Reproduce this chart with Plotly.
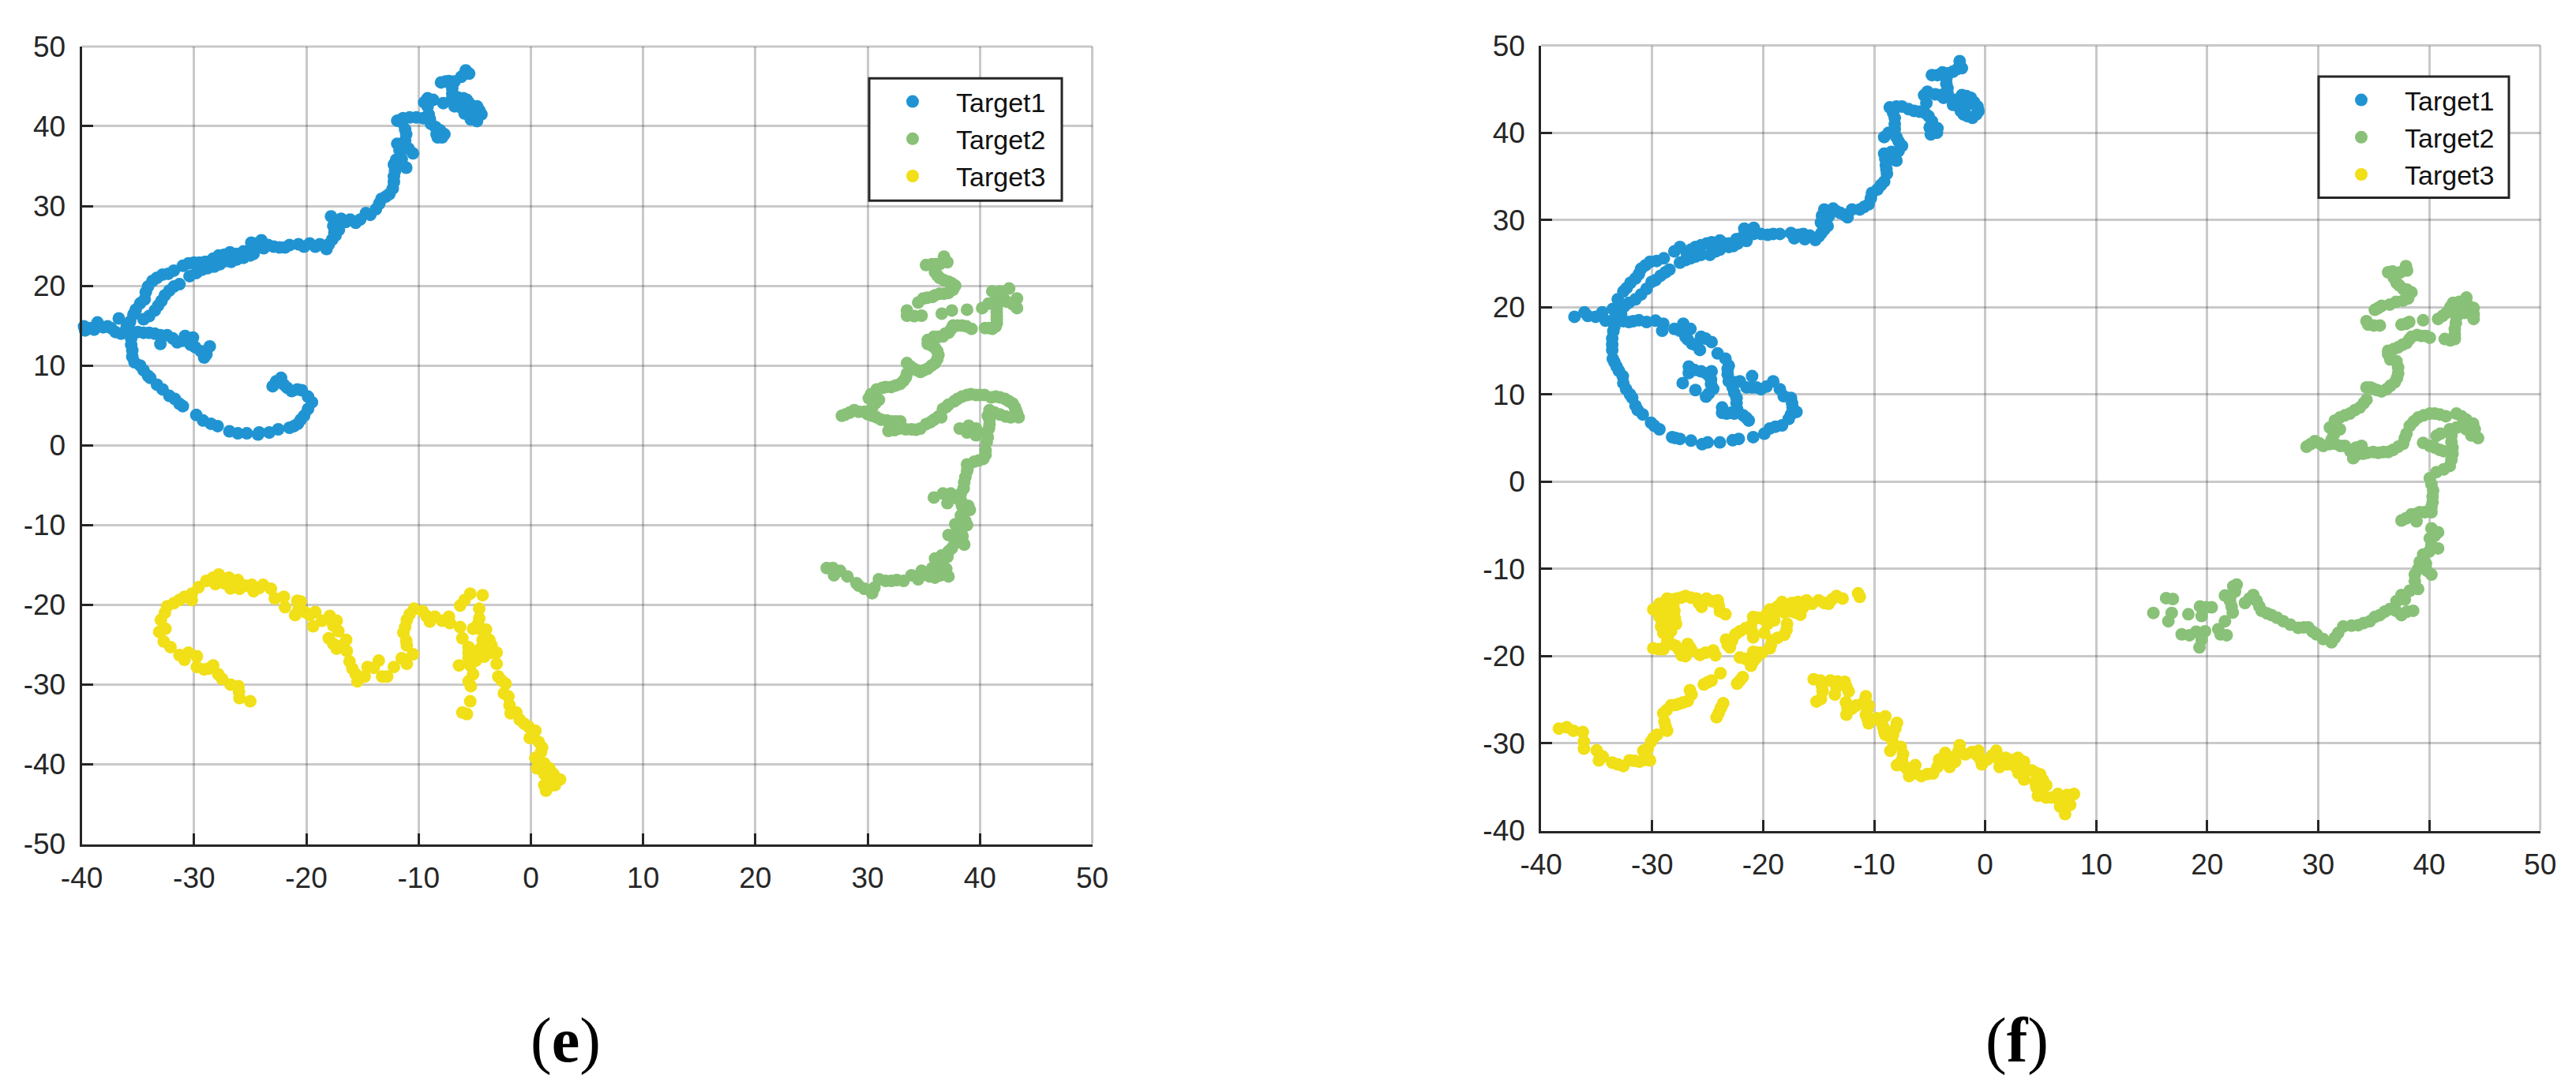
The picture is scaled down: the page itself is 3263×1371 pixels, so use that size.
import plotly.graph_objects as go

WIDTH, HEIGHT = 3263, 1371
BLUE, GREEN, YELLOW = "#2094D2", "#88C177", "#F1DF17"
SERIES_NAMES = ["Target1", "Target2", "Target3"]
X_TICKS = [-40, -30, -20, -10, 0, 10, 20, 30, 40, 50]
X_LABELS = ["-40", "-30", "-20", "-10", "0", "10", "20", "30", "40", "50"]
Y_TICKS_E = [-50, -40, -30, -20, -10, 0, 10, 20, 30, 40, 50]
Y_LABELS_E = ["-50", "-40", "-30", "-20", "-10", "0", "10", "20", "30", "40", "50"]
Y_TICKS_F = [-40, -30, -20, -10, 0, 10, 20, 30, 40, 50]
Y_LABELS_F = ["-40", "-30", "-20", "-10", "0", "10", "20", "30", "40", "50"]

e_target1 = [(-28.6,12.4),(-28.9,11.4),(-29.1,11.0),(-29.4,11.8),(-29.9,12.3),(-30.3,12.6),(-30.1,13.5),(-30.8,13.7),(-31.0,13.1),(-31.5,12.9),(-31.9,13.4),(-32.4,13.8),(-33.0,12.7),(-33.0,13.8),(-33.5,14.0),(-34.0,14.1),(-34.5,14.1),(-35.0,14.2),(-35.5,14.2),(-36.0,14.1),(-36.5,14.0),(-37.0,14.2),(-37.4,14.7),(-37.7,14.9),(-38.1,14.8),(-38.6,15.4),(-38.9,14.5),(-39.3,14.7),(-39.7,14.4),(-39.8,14.9),(-36.7,15.9),
(-34.5,15.8),(-34.0,16.2),(-33.5,16.9),(-33.2,17.5),(-32.9,18.1),(-32.6,18.8),(-32.2,19.4),(-31.8,19.9),(-31.3,20.2),
(-36.0,14.8),(-35.7,15.5),(-35.4,16.4),(-35.2,17.0),(-34.8,17.8),(-34.4,18.3),(-34.3,19.2),(-34.1,19.9),(-33.7,20.6),(-33.3,21.0),(-32.8,21.4),(-32.3,21.5),(-31.8,21.9),(-31.0,22.5),(-30.5,22.8),(-30.0,22.9),(-29.5,22.9),(-29.0,23.0),(-30.4,21.2),(-29.8,21.6),(-29.3,22.0),(-28.8,22.2),(-28.2,22.4),(-27.7,22.7),(-27.2,23.1),(-26.7,23.0),(-26.2,23.3),(-25.6,23.5),(-25.0,23.8),(-24.7,24.0),(-28.3,23.4),(-27.8,23.8),(-27.3,23.9),(-26.8,24.2),(-26.2,24.0),(-25.6,24.3),(-25.0,24.5),(-24.9,25.4),(-24.4,25.3),(-24.0,25.7),(-23.8,24.7),(-23.4,25.1),(-22.9,24.9),(-22.4,24.8),(-21.9,24.8),(-21.5,25.1),(-20.7,25.2),(-20.2,24.9),(-19.7,25.3),(-19.2,24.9),(-18.8,25.2),(-18.2,24.6),(-18.0,25.2),(-17.7,25.8),(-17.4,26.3),(-17.1,27.0),(-17.5,26.7),(-17.6,27.5),(-17.8,28.7),(-17.5,28.1),(-16.9,28.4),(-16.5,28.0),(-16.1,28.3),(-15.6,27.9),(-15.2,28.3),(-14.7,29.1),(-14.3,28.9),(-13.8,29.6),(-13.5,30.3),(-13.3,30.9),(-12.9,31.2),(-12.6,31.5),(-12.3,32.2),(-12.2,33.0),(-12.2,33.7),(-12.1,34.4),(-12.2,35.2),(-12.0,35.8),(-11.5,35.9),(-11.1,34.8),(-11.5,35.2),(-10.5,36.6),(-10.9,37.2),(-11.9,37.8),(-11.7,37.0),(-11.3,37.3),(-11.2,38.2),(-11.1,39.0),(-11.2,39.6),(-11.5,40.5),(-11.9,40.7),(-11.4,41.0),(-10.8,41.1),(-10.2,41.1),(-9.6,41.0),(-9.0,40.9),(-8.9,40.3),(-8.5,39.9),(-8.1,39.5),(-7.7,39.0),(-8.3,38.6),(-7.9,38.6),(-8.4,39.0),(-9.1,41.5),(-9.2,42.5),(-9.5,43.0),(-9.2,43.5),(-8.7,43.3),(-7.8,42.9),
(-8.0,45.5),(-7.3,45.65),(-7.0,44.75),(-7.0,44.1),(-7.0,43.5),(-6.8,42.5),(-5.7,43.3),(-4.8,42.5),(-4.4,41.5),(-5.35,40.85),(-4.8,40.65),(-5.8,47),(-5.5,46.6),(-6.2,46.2),(-7.6,45.6),(-6.8,45.6),
(-6.5,43.6),(-6.0,43.5),(-5.5,42.9),(-5.9,42.4),(-5.2,42.3),(-5.5,41.8),(-5.0,41.8),(-4.6,42.0),(-5.0,41.2),(-6.3,42.4),(-6.6,43.0),(-5.9,41.6),
(-35.6,13.4),(-35.6,12.6),(-35.5,11.9),(-35.5,11.1),(-35.3,10.4),(-34.8,10.0),(-34.5,9.4),(-34.1,8.7),(-33.9,8.45),(-33.3,7.6),(-32.8,7.0),(-32.2,6.2),(-31.7,5.8),(-31.3,5.2),(-31,4.9),(-29.8,3.8),(-29.2,3.1),(-28.5,2.7),(-27.9,2.4),(-26.85,1.75),(-26.1,1.5),(-25.3,1.5),(-24.3,1.35),(-24.2,1.6),(-23.3,1.6),(-22.5,2.0),(-21.5,2.2),(-20.75,2.7),(-21.1,2.4),(-20.2,3.7),(-20.5,3.2),(-19.85,4.55),(-19.5,5.4),(-19.85,6.1),(-20.4,6.9),(-21.3,6.8),(-20.8,7.0),(-21.7,7.2),(-22,7.6),(-22.25,8.45),(-22.7,8),(-23,7.4)]

e_target2 = [(36.8,23.65),(37.1,22.95),(36.4,22.7),(35.75,22.7),(35.2,22.6),(36.1,22.7),(36,21.7),(36.2,21.3),(36.4,21.0),(36.8,20.7),(37.2,20.5),(37.5,20.3),(37.8,20),(37.6,19.5),(37.2,19.1),(36.8,19),(36.4,19),(36,18.8),(35.75,18.6),(35.3,18.5),(34.95,18.4),(34.5,17.9),
(33.5,16.9),(33.5,16.25),(34.15,16.2),(34.8,16.25),(36.6,16.5),(37.5,16.9),(38.85,17),(40.2,17.2),(40.75,17.75),(41.4,18.1),(42.1,18.4),(43.3,18.4),(43.3,17.2),(42.6,19.65),(41.8,19.3),(41.1,19.3),(42.9,17.7),(42.4,18.0),(41.5,17.2),(41.4,17.6),(41.5,16.7),(41.5,16.2),(41.5,15.8),(41.5,15.3),(41.1,14.6),(41.4,14.9),(40.8,14.7),(40.45,14.7),
(39.25,14.6),(38.8,14.9),(38.4,15),(38,15),(37.6,15),(37.4,14.5),(37.2,14.1),(36.9,14),(36.7,13.65),(36.3,13.6),(35.9,13.6),(35.35,13.2),(35.35,12.7),(35.7,12.5),(36,12.2),(36.2,11.8),(36.3,11.3),(36.2,10.8),(36,10.3),(35.7,10),(35.35,9.6),(35,9.4),(34.7,9.2),(34.4,9.4),(34.1,9.6),(33.8,9.9),(33.5,10.3),(33.5,9.0),(33.4,8.5),(33.2,8.1),(32.9,7.7),(32.5,7.5),(32.1,7.3),(31.6,7.3),(31.3,7.2),(30.8,7),(30.3,6.4),(30.1,5.9),(31,5.7),(30.7,5.3),(30.4,4.7),(30,3.9),(29.7,4.2),(29.2,4.2),(28.8,4.4),(28.4,4.1),(28,3.85),(27.7,3.7),
(30.4,3.7),(30.8,3.5),(31.2,3.2),(31.7,3.1),(32.1,3),(32.5,3),(32.9,3),(31.85,1.8),(32.4,1.9),(32.8,2.1),(32.3,2.5),(32.7,2.6),(33.4,2.0),(33.9,2),(34.3,1.95),(34.7,2.1),(35.2,2.65),(35.6,2.9),(35.9,3.2),(36.3,3.6),(36.55,3.5),(36.7,4.55),(37,4.8),(37.2,5.1),(37.7,5.5),(38,5.8),(38.85,6.3),(38.4,6.1),(39.2,6.4),(39.65,6.3),(40,6.3),(40.4,6.3),(41,6.0),(41.4,6.1),(41.8,6),(42.25,5.8),(42.6,5.5),(42.9,5.25),(43.1,4.8),(43.2,4.4),(43.3,4.0),(43.45,3.5),(42.75,3.5),(42.3,3.6),(41.8,3.85),(41.3,4.1),(40.85,4.4),(40.7,3.7),(40.85,3.2),(40.85,2.65),(40.8,2.1),(40.6,1.6),(39.65,2.1),(39,2.45),(38.2,2.1),(38.85,1.6),(39.65,1.25),(40.7,1),(40.6,0.4),(40.5,-0.65),(40.5,-1.2),(40.3,-1.7),(39.9,-1.9),(39.5,-2.05),(38.85,-2.4),(38.9,-2.9),(38.85,-3.25),(38.7,-4),(38.6,-4.65),(38.55,-5.4),(38.3,-6.05),(37.4,-6.05),(36.7,-6.05),(35.9,-6.55),(37.1,-7.25),(38.1,-6.8),(38.3,-6.9),(38.95,-7.6),(38.6,-7.5),(38.4,-7.6),(38.7,-8.2),(39.1,-8.1),(38.3,-8.8),(38.7,-9.5),(37.8,-9.9),(38.85,-10),(38.4,-10.5),(38,-10.4),(38.2,-11.0),(37.2,-11.25),(37.5,-11.4),(37.9,-11.6),(38.45,-11.4),(38.6,-12.45),(37.75,-12.3),(37.5,-12.9),(37.2,-13.3),(37.1,-14),(36.7,-14.3),(36.6,-13.8),(36,-14.2),(36.4,-15.1),(36.2,-15.5),(37.0,-15.5),(37.2,-16.45),(36.5,-16.3),(36,-16.6),(35.5,-16.45),(35.75,-15.4),(35.1,-16.2),(34.8,-15.75),(34.5,-16.8),(33.9,-16.3),(33.2,-17),(32.6,-16.9),(32.1,-17),(31.6,-17),(31,-16.8),(30.6,-17.85),(30.4,-18.55),(29.7,-18),(29.2,-17.6),(29,-17.3),(28.2,-16.45),(27,-16.3),(26.35,-15.4),(26.9,-15.4),(27.55,-15.75)]

e_target3 = [(-25.0,-32.1),(-25.95,-31.7),(-26.05,-30.2),(-26.0,-30.9),(-26.75,-30),(-27.5,-29.3),(-27.85,-28.7),(-28.3,-27.6),(-28.7,-28.0),(-29.1,-28.1),(-29.75,-27.8),(-29.75,-26.45),(-30.5,-26),(-30.85,-26.9),(-31.3,-26.3),(-32.1,-25.3),(-32.7,-24.6),(-33.1,-23.4),(-32.55,-23),(-32.95,-21.9),(-32.6,-21.0),(-32.4,-20.2),(-31.8,-19.8),(-30.85,-19),(-31.3,-19.4),(-30.2,-18.6),(-30.2,-19.4),(-29.6,-17.8),(-28.9,-17),(-28.3,-16.6),(-27.8,-16.2),(-28.1,-17.4),(-26.9,-16.6),(-27.3,-17.3),(-26.75,-17.95),(-26.1,-16.9),(-25.95,-18),(-25.4,-17.6),(-24.85,-17.5),(-23.85,-17.5),(-24.7,-18.3),(-24.2,-17.9),(-23.15,-18),(-22.8,-19.2),(-22,-19),(-21.9,-20.3),(-20.8,-19.5),(-21,-21.3),(-20.5,-19.6),(-20.15,-20.9),(-20.7,-20.6),(-19.2,-20.9),(-19.4,-22.7),(-19.7,-21.3),(-18.6,-22),(-17.9,-21.4),(-17.3,-22),(-17.6,-22.6),(-17.15,-23.3),(-18,-24.2),(-17.6,-24.9),(-17.3,-25.5),(-16.45,-24.4),(-16.9,-25.2),(-16.4,-25.8),(-16.15,-27.1),(-15.6,-28.7),(-15.9,-28.0),(-15.45,-29.6),(-14.8,-29),(-14.55,-27.8),(-13.55,-27),(-14.0,-27.9),(-13.25,-29),(-12.8,-29),(-12.2,-27.8),(-11.5,-26.7),(-11.05,-27.4),(-10.5,-26.2),(-11.05,-25.1),(-11.35,-23.5),(-11.1,-24.5),(-11.05,-21.9),(-11.2,-22.8),(-10.4,-20.5),(-10.8,-21.2),(-9.65,-20.8),(-9,-22.1),(-9.3,-21.4),(-8.55,-21.5),(-7.9,-22),(-7.3,-21.5),(-7.2,-22.3),
(-6.3,-22.8),(-6.1,-24.2),(-5.55,-25.3),(-5.55,-26.7),(-5.55,-26.0),(-5.0,-26.0),(-4.9,-27.0),(-6.4,-27.6),(-5.4,-27.6),(-5.15,-28.7),(-5.55,-29.6),(-5.35,-30.2),(-5.4,-32.1),(-5.7,-33.7),(-6.1,-33.5),(-6.3,-20.1),(-5.9,-19.4),(-5.4,-18.6),(-4.3,-18.8),(-4.6,-20.5),(-4.6,-21.7),(-4.7,-22.4),(-5.15,-23),(-4.6,-23),(-4,-23.1),(-4.3,-24.4),(-3.7,-24.4),(-4.15,-26.5),(-4.5,-25.5),(-3.5,-26),(-3.5,-25.1),(-3.05,-26),(-3.05,-27.4),(-2.9,-29),(-2.25,-29.9),(-2.4,-31.1),(-2.6,-29.5),(-2,-31.5),(-1.9,-32.6),(-1.8,-33.6),(-1.3,-33.5),(-1,-34.4),(-0.6,-34.9),(-0.2,-35.3),(0.4,-35.8),(-0.1,-36.7),(0.7,-37.2),(0.9,-38.5),(0.4,-39.2),(1.0,-37.9),(1.2,-39.9),(0.55,-40.5),(1.65,-40.5),(2,-41.2),(2.6,-41.9),(2.15,-42.6),(1.35,-43.3),(1.2,-42.6),(1.65,-41.9),(1.7,-42.7),(1.2,-41.2)]

f_target1 = [(-37,18.9),(-36.1,19.4),(-35.8,19),(-35.1,18.9),(-34.5,19.4),(-34.2,18.45),(-33.55,19.8),(-32.8,19.2),(-33.4,18.7),(-32.1,18.3),(-32.6,18.4),(-31.2,18.5),(-31.7,18.4),(-30.5,18.3),(-29.7,18.45),(-29,18.1),(-29.1,17.3),(-28,17.5),(-27.2,18.1),(-27.5,17.3),(-26.55,17.5),(-27,16.6),(-26.4,15.8),(-26.8,16.3),(-25.6,16.6),(-25.7,15.1),(-26.0,15.6),(-24.65,16),(-25.2,16.4),(-24.1,14.7),(-23.4,14.1),(-23.1,13.3),(-23.2,12.3),(-23.2,12.9),(-23.1,11.5),(-22.1,11.5),(-22.6,11.4),(-21,12.1),(-21.5,10.8),(-21.0,10.8),(-20.2,10.6),(-20.6,10.8),(-19.1,11.5),(-19.7,10.9),(-18.5,10.6),(-18.15,9.8),(-17.5,9.6),(-17.35,8.5),(-17.4,9.0),(-17,8),(-17.7,7.2),(-17.5,7.7),(-18.3,6.45),(-18.9,6.3),(-19.4,6.1),(-19.9,5.5),(-20.9,5.1),
(-22.2,4.9),(-22.75,4.75),(-23.9,4.5),(-25,4.5),(-25.5,4.3),(-26.5,4.7),(-27.5,4.9),(-28.2,5.1),(-27.9,5.0),
(-29.35,6),(-29.8,6.4),(-30.1,6.75),(-30.85,7.7),(-31.5,8.7),(-31.3,8.2),(-31.8,9.6),(-32.0,10.0),(-32.35,10.6),(-32.6,11.3),(-32.65,12.1),(-33.2,13.2),(-33.0,12.7),(-33.55,14.1),(-33.4,13.7),(-33.6,15.1),(-33.6,15.7),(-33.6,16.4),(-33.5,17.25),(-33.4,17.8),
(-22.75,10.8),(-22.4,9.6),(-22.6,10.2),(-22.35,8.3),(-22.4,9.0),(-22.6,7.8),(-21.8,7.6),(-21.3,7),(-21.5,7.3),(-23.7,7.9),(-23.7,8.5),(-23.3,7.8),(-22.9,7.9),
(-26.7,13.2),(-26.7,12.45),(-26.2,12.8),(-25.6,12.65),(-25.1,12.4),(-24.65,12.65),(-24.7,11.7),(-24.9,12.2),(-24.5,10.65),(-24.7,11.2),(-25.15,9.75),(-24.9,10.1),(-26.1,10.5),(-27.25,11.3),
(-32.9,19.8),(-32.5,20.1),(-32.1,20.5),(-31.5,20.9),(-31,21.45),(-30.5,22.1),(-30.05,22.9),(-29.25,23.6),(-29.7,23.1),(-28.45,24.3),(-28.8,24.0),
(-33.1,20.9),(-32.6,21.8),(-32.3,22.2),(-31.95,22.8),(-31.5,23.3),(-31.2,23.8),(-31,24.4),(-30.6,24.8),(-30.2,25.2),(-29.6,25.3),(-28.95,25.6),
(-27.5,25.1),(-27.0,25.4),(-26.55,25.6),(-26.1,25.8),(-25.6,26),(-24.8,26),(-24.3,26.4),(-23.9,26.6),(-23.1,26.9),(-22.3,27.3),(-22.7,27.0),(-28,26.4),(-27.5,26.9),(-26.9,26.3),(-26.5,26.6),(-26.1,26.9),(-25.6,27.1),(-25.1,27.3),(-24.65,27.45),(-23.9,27.65),(-23.5,27.3),(-23.1,27.3),(-22.4,27.8),(-21.9,28.0),(-21.5,27.6),(-21.7,29),(-21.2,28.5),(-20.85,29.1),(-20.85,28.4),(-20.2,28.4),(-19.6,28.3),(-19.1,28.4),(-18.5,28.4),(-17.5,28.5),(-17.2,27.9),(-16.8,28.3),(-16.4,28.4),(-16.25,27.8),(-15.8,28.2),(-15.3,27.7),(-15.0,28.1),(-14.75,28.5),(-14.5,28.9),(-14.2,29.3),(-14.8,29.7),(-14.7,30.5),(-14.5,31.2),(-13.7,31.3),(-14.1,30.4),(-13.05,30.8),(-13.4,31.0),(-12.4,30.3),(-12.7,30.6),(-12,31.2),(-11.3,31.2),(-10.9,31.5),(-10.5,31.8),(-10.3,32.5),(-10.2,33.1),(-9.7,33.5),(-9.4,34),(-9.1,34.4),(-8.85,35.3),(-8.95,36.3),(-8.9,35.8),(-9.1,37.6),(-9.0,37.0),(-8,36.8),(-8.45,37.8),(-8.4,37.1),(-7.5,38.5),(-7.8,37.9),(-8,39.5),(-7.8,39.0),(-9.1,39.5),(-8.7,40.0),(-8.15,40.4),(-8.15,41.0),(-8.15,41.7),(-8.3,42.3),(-8.6,42.9),(-8.0,43),(-7.5,43),(-6.9,42.7),(-6.4,42.5),(-5.9,42.4),(-5.45,42.3),(-5.1,41.9),(-4.8,41.3),(-5,40.6),(-4.3,40.5),(-4.9,39.8),(-4.35,40),
(-5.3,43.4),(-5.5,44.3),(-5.2,44.7),(-4.5,44.4),(-4.0,44.3),(-3.75,44),(-3.4,45.1),(-3.4,44.6),(-3.5,46.2),(-3.5,45.6),(-4.8,46.6),(-4.3,46.6),(-3.85,46.9),(-3.4,46.8),(-2.9,47),(-2.5,47.3),(-2.1,47.4),(-2.3,48.2),
(-2.9,43.2),(-2.9,43.8),(-2.1,44.3),(-1.7,44.2),(-1.3,44),(-1.0,43.5),(-0.7,43),(-0.6,42.5),(-0.8,42.1),(-1.15,41.7),(-1.6,41.9),(-1.95,42.1),(-2.4,43),(-2.2,42.5),(-1.6,43.2),(-2.1,43.6)]

f_target2 = [(37.9,24.7),(38.0,24.2),(36.3,24),(36.7,24.1),(37.05,23.9),(37.4,24.0),(37.05,22.8),(36.8,23.4),(37.65,22.1),(37.3,22.5),(38.4,21.7),(38.0,22.0),(38.1,21.0),(37.65,20.75),(37.0,20.6),(36.45,20.3),(35.7,20.15),(35.1,19.7),(35.4,19.9),
(34.35,18.4),(34.5,18),(35.0,17.9),(35.55,17.9),(37.5,18),(38.2,18.3),(37.9,18.1),(39.45,18.5),
(40.8,18.65),(41.55,19.35),(41.2,19.0),(42.15,20.5),(41.9,20.0),(42.7,20.6),(43.35,21.1),(43.5,20.2),(44,19.9),(44,19.2),(44,18.65),(43.2,19.35),(42.45,18.9),(42.8,19.3),(42.3,17.5),(42.4,18.2),(42.3,16.9),(42.3,16.35),(41.9,16.2),(41.4,16.35),
(40.05,16.5),(39.7,16.7),(39.3,16.7),(38.9,16.8),(38.4,16.6),(37.95,15.9),(38.2,16.3),(37.2,15.4),(37.6,15.7),(36.3,15),(36.8,15.2),(36.5,14),(36.3,14.6),(37.05,13.8),(37.2,13.1),(37.2,12.4),(37.1,11.9),(36.9,11.4),(36.5,11.0),(36.15,10.6),(35.7,10.35),(34.95,10.65),(35.3,10.5),(34.35,10.8),(34.7,10.8),(34.35,9.4),(34.1,9.0),(33.75,8.5),(33.3,8.2),(32.85,7.8),(32.4,7.6),(31.95,7.35),(31.5,7.0),(31.05,6.2),(31.95,6),(31.5,6.2),(31.2,4.8),(31.4,5.4),(29.7,4.65),(30.1,4.4),(28.95,4),(29.3,4.3),(30.45,4.1),(31.0,4.3),(31.5,4.35),(32.0,4.1),(32.4,4.1),(33.15,2.7),(33.5,3.1),(34.05,3.2),(33.9,4.1),(33.4,3.9),(32.9,3.5),(34.4,3.3),(34.95,3.4),(35.4,3.3),(35.85,3.4),(36.3,3.4),(36.75,3.65),(37.2,4.0),(37.65,4.35),(37.8,5.0),(37.95,5.5),(38.25,6.4),(38.6,6.9),(39,7.35),(39.5,7.6),(40.05,7.8),(40.5,7.8),(40.95,7.7),(41.5,7.5),(42.45,7.8),(42.9,7.5),(43.35,7.1),(43.95,6.65),(44.1,6.0),(44.4,5),(43.8,5.3),(43.35,6),(42.45,6.2),(41.85,6),(42.9,6.3),(42,4.55),(42.0,5.3),(42.1,3.2),(42.1,3.9),(41.85,1.8),(42.0,2.5),(41.3,1.4),(40.65,1.1),(40.05,0.4),(40.2,-0.3),(40.35,-1),(40.3,-1.7),(40.3,-2.35),(40.2,-3.5),(40.2,-2.9),(39.6,-3.5),(39.15,-3.5),(38.4,-3.75),(38.8,-3.7),(37.5,-4.45),(37.9,-4.2),(38.85,-4.55),
(40.65,5.25),(41.0,5.5),(39.45,4.45),(40.05,4.1),(40.5,3.9),(40.95,3.65),(41.3,3.5),(40.2,-5.35),(40.8,-5.8),(40.05,-6.5),(40.5,-6.2),(40.8,-7.65),(40.2,-7.3),(40.0,-8.0),(39.45,-8.35),(39.15,-9.2),(39.7,-9.4),(40.2,-10.65),(39.8,-10.2),(38.7,-10.65),(39.0,-10.0),(39,-12.3),(38.7,-11.4),(38.25,-12.5),(37.5,-13),(37.05,-13.7),(37.8,-13.5),(38.55,-14.8),(37.5,-15.3),(38.0,-14.9),(36.45,-14.6),(37,-14.8),(35.55,-15.3),(36.0,-14.9),(34.65,-16),(35.1,-15.5),(33.6,-16.45),(34.1,-16.2),(32.25,-16.6),(33,-16.5),(31.8,-17.35),(31.2,-18.4),(31.5,-17.9),(30.45,-18.05),(29.85,-17.5),(29.1,-16.7),(29.5,-17.2),(28.2,-16.75),(28.7,-16.7),(26.85,-16),(27.5,-16.4),(25.8,-15.3),(26.3,-15.6),(24.9,-14.8),(25.4,-15.1),(24.45,-13.65),(24.7,-14.3),(24.15,-13),(23.4,-13.9),(23.8,-13.4),(22.35,-12),(22.65,-11.8),(22.5,-12.6),(21.6,-13.05),(22.05,-13.65),(22.1,-13.1),(22.3,-15),(22.2,-14.3),
(21.6,-16),(21,-16.9),(21.75,-17.6),(21.2,-17.5),(19.8,-17.15),(19,-17.2),(19.3,-19),(19.5,-18.1),(17.7,-17.5),(18.4,-17.6),(19.5,-15.4),(20.4,-14.4),(19.35,-14.3),(19.9,-14.4),(18.3,-15.2),(16.8,-15.05),(16.5,-16),(15.15,-15.05),(16.3,-13.35),(16.9,-13.45)]

f_target3 = [(-38.4,-28.3),(-37.7,-28.15),(-37.1,-28.55),(-36.25,-28.7),(-36.15,-29.8),(-36.15,-30.6),(-35,-30.8),(-34.8,-31.95),(-34.45,-31.5),(-33.6,-32.2),(-32.6,-32.6),(-33.1,-32.4),(-32.05,-31.95),(-31.6,-32.0),(-31.15,-32.1),(-30.2,-31.95),(-30.7,-31.9),(-30.8,-30.85),(-30.4,-30.6),(-30.1,-29.8),(-29.9,-29.4),(-29.55,-29),(-28.65,-28.55),(-28.9,-27.5),(-28.8,-28.0),(-29,-26.55),(-28.7,-26.2),(-28.3,-25.65),(-27.55,-25.45),(-27.9,-25.6),(-26.8,-25.15),(-27.2,-25.3),(-26.45,-24.4),(-26.6,-23.9),
(-25.35,-23.25),(-24.65,-22.8),(-25.0,-23.0),(-23.85,-21.95),(-22.35,-23.15),(-22.1,-22.8),(-21.85,-22.4),(-24.2,-27),(-24.0,-26.5),(-23.6,-25.4),(-23.8,-25.9),
(-21.1,-21.1),(-20.9,-20.6),(-20.65,-20.25),(-22.1,-20.15),(-21.6,-20.3),(-21,-20.0),(-20.9,-19.5),(-20.1,-19.6),(-20.5,-19.6),(-19.4,-19.1),(-19.2,-18.2),(-19.3,-18.7),(-18.1,-17.55),(-18.7,-17.9),(-17.85,-16.3),(-17.9,-17.0),(-19.9,-17.35),(-20.9,-17.85),(-21,-17.2),(-20.9,-15.5),(-20.1,-15.7),(-20.5,-15.6),(-23,-19),(-22.8,-18.2),(-23.35,-18.1),(-23.2,-18.7),(-22.1,-17.15),(-22.5,-17.5),(-21.1,-16.5),(-21.6,-16.8),(-19.4,-14.65),(-19.7,-15.2),(-19,-15.9),(-19.6,-16.3),(-18.3,-13.8),(-18.7,-14.3),(-17.55,-14.85),(-18.1,-15),(-16.65,-15.25),(-17.1,-15),(-16.1,-13.6),(-16.85,-13.8),(-17.4,-13.9),(-17.9,-14.2),(-18.65,-14.8),(-16.4,-14.4),(-17,-14.4),(-15,-13.6),(-15.6,-14.0),(-14.1,-14),(-14.5,-13.9),(-13.4,-13.1),(-12.85,-13.4),(-13.8,-13.5),(-11.45,-12.8),(-11.3,-13.2),
(-29.9,-14.65),(-29.35,-14),(-28.65,-13.4),(-27.8,-13.4),(-28.2,-13.5),(-27,-13.1),(-27.4,-13.3),(-26,-13.4),(-26.5,-13.3),(-25.55,-14.35),(-25.8,-13.9),(-25.1,-13.4),(-24.1,-13.6),(-24.6,-13.7),(-23.9,-14.85),(-24.0,-14.2),(-23.4,-15.2),(-29.35,-15.5),(-28.5,-14.85),(-27.95,-15.7),(-28.8,-16.5),(-27.85,-16.3),(-29,-17.35),(-28.3,-17.15),(-29.5,-15.0),(-28.8,-14),(-28.1,-14.2),(-28.65,-15.7),(-28.3,-16.3),(-29,-14.85),(-28.2,-15.2),(-29,-16.0),(-29.2,-16.6),(-28.6,-17.8),(-28.0,-14.8),(-28.9,-13.9),
(-29.9,-19.1),(-29.4,-19.2),(-29,-19.2),(-28.65,-18.4),(-28.3,-18.6),(-27.9,-18.8),(-27.35,-19.9),(-27,-20),(-26.8,-18.6),(-26.6,-19.0),(-26.45,-19.35),(-25.7,-19.85),(-25.2,-19.6),(-24.5,-19.35),(-24.3,-19.9),(-27.6,-19.2),
(-15.45,-22.65),(-14.85,-22.8),(-14.65,-24),(-14.7,-23.4),(-15.2,-25.2),(-14.8,-24.9),(-13.95,-22.8),(-13.3,-22.9),(-12.65,-22.95),(-13.4,-23.55),(-13.55,-24.4),(-12.3,-24.05),(-12.5,-23.5),(-12.55,-25.3),(-12.4,-26),(-12.5,-26.7),(-11.6,-25.65),(-12,-26),(-10.75,-24.6),(-10.9,-25.2),(-10.5,-25.65),(-10.75,-26.7),(-10.6,-26.1),(-10.5,-27.7),(-10.6,-27.2),(-9.75,-27.1),(-9,-26.9),(-9.2,-28.1),(-9.4,-27.5),(-9,-29),(-9.1,-28.6),(-7.95,-27.65),(-8.1,-28.3),(-8.3,-29),(-8.4,-29.6),(-8.55,-30.85),(-8.2,-30.2),(-7.6,-30.4),(-7.4,-31.25),(-7.5,-31.9),(-7.95,-32.5),(-6.3,-32.5),(-7.2,-32.7),(-6.85,-33.75),(-7,-33),(-6.3,-33.4),(-5.75,-33.75),(-5.2,-33.5),(-4.7,-33.45),(-4.15,-31.85),(-4.3,-32.7),(-3.6,-31.1),(-3.8,-31.6),(-3.2,-32.7),(-3.6,-32.2),(-2.7,-32.1),(-3.0,-31.6),(-2.3,-30.2),(-2.4,-30.9),(-1.8,-31.25),(-1.2,-31.0),(-0.6,-30.85),(-0.7,-31.4),(-0.3,-32.4),(-0.4,-31.9),(1,-30.85),(0.6,-31.4),(0.2,-31.85),(1.3,-32.7),(1.2,-31.8),(1.85,-31.65),(2.4,-31.9),(2.95,-31.65),(3.5,-32.1),(2.75,-32.7),(2.0,-32.4),(3.0,-33.4),(3.5,-34.15),(3.6,-33.3),(4.2,-33.1),(4.95,-33.55),(4.6,-33.4),(4.6,-35),(4.5,-34.4),(5.5,-34.8),(5.2,-34.2),(4.75,-36),(5.0,-35.5),(6.55,-35.8),(5.5,-36.2),(6.0,-36.2),(6.75,-37.25),(6.7,-36.5),(7.2,-38.1),(7.2,-37.5),(7.65,-37.05),(7.5,-36.4),(8,-35.8),(7.4,-35.9)]


def xs(points):
    return [p[0] for p in points]


def ys(points):
    return [p[1] for p in points]


def fx(px):
    return px / WIDTH


def fy(px):
    return 1 - px / HEIGHT


PANEL_E = {"x": (103.6, 1383.5), "y": (58.9, 1069.5)}
PANEL_F = {"x": (1952.2, 3217.7), "y": (57.6, 1052.5)}
FONT = "Liberation Sans"
TICK_FONT = dict(family=FONT, size=37, color="#262626")
GRID = "rgba(38,38,38,0.25)"
AXIS = "#262626"

fig = go.Figure()
panels = [
    ([e_target1, e_target2, e_target3], "x", "y", "legend"),
    ([f_target1, f_target2, f_target3], "x2", "y2", "legend2"),
]
for pts, xa, ya, leg in panels:
    for points, name, color in zip(pts, SERIES_NAMES, [BLUE, GREEN, YELLOW]):
        fig.add_trace(go.Scatter(
            x=xs(points), y=ys(points), mode="markers", name=name,
            xaxis=xa, yaxis=ya, legend=leg, cliponaxis=False,
            marker=dict(color=color, size=16, line=dict(width=0)),
        ))


def x_axis(panel, anchor):
    return dict(
        domain=[fx(panel["x"][0]), fx(panel["x"][1])], range=[-40, 50], anchor=anchor,
        tickmode="array", tickvals=X_TICKS, ticktext=X_LABELS, automargin=False,
        showgrid=True, gridcolor=GRID, gridwidth=3, zeroline=False,
        showline=True, linecolor=AXIS, linewidth=3,
        ticks="inside", ticklen=14, tickwidth=3, tickcolor=AXIS,
        tickfont=TICK_FONT, ticklabelstandoff=8,
    )


def y_axis(panel, anchor, rng, vals, labels):
    return dict(
        domain=[fy(panel["y"][1]), fy(panel["y"][0])], range=rng, anchor=anchor,
        tickmode="array", tickvals=vals, ticktext=labels, automargin=False,
        showgrid=True, gridcolor=GRID, gridwidth=3, zeroline=False,
        showline=True, linecolor=AXIS, linewidth=3,
        ticks="inside", ticklen=14, tickwidth=3, tickcolor=AXIS,
        tickfont=TICK_FONT, ticklabelstandoff=10,
    )


def legend(left, top):
    return dict(
        x=fx(left), y=fy(top), xanchor="left", yanchor="top",
        bgcolor="rgba(0,0,0,0)", borderwidth=0,
        font=dict(family=FONT, size=34, color="#111111"),
        itemwidth=100, itemsizing="trace",
        traceorder="normal", itemclick=False, itemdoubleclick=False,
    )


def edges(xa, ya):
    common = dict(type="line", layer="below", line=dict(color=GRID, width=3))
    return [
        dict(xref=f"{xa} domain", yref=f"{ya} domain", x0=0, x1=1, y0=1, y1=1, **common),
        dict(xref=f"{xa} domain", yref=f"{ya} domain", x0=1, x1=1, y0=0, y1=1, **common),
    ]


def legend_box(left, top, right, bottom):
    return dict(type="rect", xref="paper", yref="paper", layer="above",
                x0=fx(left), x1=fx(right), y0=fy(bottom), y1=fy(top),
                fillcolor="white", line=dict(color=AXIS, width=3))


fig.update_layout(
    width=WIDTH, height=HEIGHT, margin=dict(l=0, r=0, t=0, b=0, autoexpand=False),
    template="none",
    paper_bgcolor="white", plot_bgcolor="white", showlegend=True,
    xaxis=x_axis(PANEL_E, "y"),
    yaxis=y_axis(PANEL_E, "x", [-50, 50], Y_TICKS_E, Y_LABELS_E),
    xaxis2=x_axis(PANEL_F, "y2"),
    yaxis2=y_axis(PANEL_F, "x2", [-40, 50], Y_TICKS_F, Y_LABELS_F),
    legend=legend(1101, 100),
    legend2=legend(2936, 98),
    shapes=edges("x", "y") + edges("x2", "y2") + [
        legend_box(1101, 99.3, 1345, 254.3),
        legend_box(2937, 97, 3178, 250.5),
    ],
    annotations=[
        dict(text="(<b>e</b>)", x=fx(716), y=fy(1318), xref="paper", yref="paper",
             showarrow=False, xanchor="center", yanchor="middle",
             font=dict(family="Liberation Serif", size=80, color="black")),
        dict(text="(<b>f</b>)", x=fx(2554.6), y=fy(1318), xref="paper", yref="paper",
             showarrow=False, xanchor="center", yanchor="middle",
             font=dict(family="Liberation Serif", size=80, color="black")),
    ],
)

fig.write_html("out.html", config={"displayModeBar": False},
               post_script="document.body.style.margin='0';document.body.style.overflow='hidden';")
